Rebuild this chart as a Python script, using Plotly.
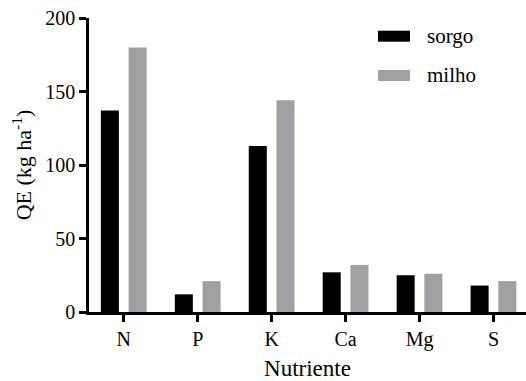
import plotly.graph_objects as go

nutrientes = ["N", "P", "K", "Ca", "Mg", "S"]
sorgo = [137, 12, 113, 27, 25, 18]
milho = [180, 21, 144, 32, 26, 21]
y_ticks = [0, 50, 100, 150, 200]

BLACK = "#000000"
GRAY = "#a0a0a4"
FONT = "'Liberation Serif', 'Times New Roman', 'DejaVu Serif', serif"

fig = go.Figure()
fig.add_trace(go.Bar(x=nutrientes, y=sorgo, name="sorgo", marker=dict(color=BLACK, line=dict(width=0))))
fig.add_trace(go.Bar(x=nutrientes, y=milho, name="milho", marker=dict(color=GRAY, line=dict(width=0))))

L, T, B, R = 89, 18, 69, 0
W, H = 526, 381
pw, ph = W - L - R, H - T - B

def px_x(x):
    return (x - L) / pw

def px_y(y):
    return (H - B - y) / ph

# custom legend (swatch + label)
legend_items = [("sorgo", BLACK, 30.7, 41.7), ("milho", GRAY, 70, 81)]
shapes = []
annotations = []
for name, col, y0, y1 in legend_items:
    shapes.append(dict(type="rect", xref="paper", yref="paper",
                       x0=px_x(378), x1=px_x(410), y0=px_y(y1), y1=px_y(y0),
                       fillcolor=col, line=dict(width=0)))
    annotations.append(dict(text=name, xref="paper", yref="paper",
                            x=px_x(425), y=px_y((y0 + y1) / 2 - 0.5), xanchor="left", yanchor="middle",
                            showarrow=False, font=dict(family=FONT, size=21, color="black")))

fig.update_layout(
    width=W, height=H,
    margin=dict(l=L, r=R, t=T, b=B, pad=0),
    paper_bgcolor="white", plot_bgcolor="white",
    barmode="group", bargap=0.25, bargroupgap=0.35,
    showlegend=False,
    font=dict(family=FONT, size=20, color="black"),
    shapes=shapes, annotations=annotations,
    xaxis=dict(
        range=[-0.47, 5.44], showline=True, linecolor="black", linewidth=2.5,
        ticks="outside", ticklen=7, tickwidth=2.5, tickcolor="black",
        showgrid=False, zeroline=False, automargin=False,
        tickfont=dict(family=FONT, size=20),
        title=dict(text="Nutriente", font=dict(family=FONT, size=23), standoff=12),
    ),
    yaxis=dict(
        range=[0, 200], tickvals=y_ticks, showline=True, linecolor="black", linewidth=2.5,
        ticks="outside", ticklen=7, tickwidth=2.5, tickcolor="black",
        showgrid=False, zeroline=False, automargin=False,
        tickfont=dict(family=FONT, size=20),
        title=dict(text="QE (kg ha<sup>-1</sup>)", font=dict(family=FONT, size=22), standoff=8),
    ),
)

fig.write_html("out.html", config={"displayModeBar": False},
               post_script="document.body.style.margin='0';document.body.style.padding='0';")
